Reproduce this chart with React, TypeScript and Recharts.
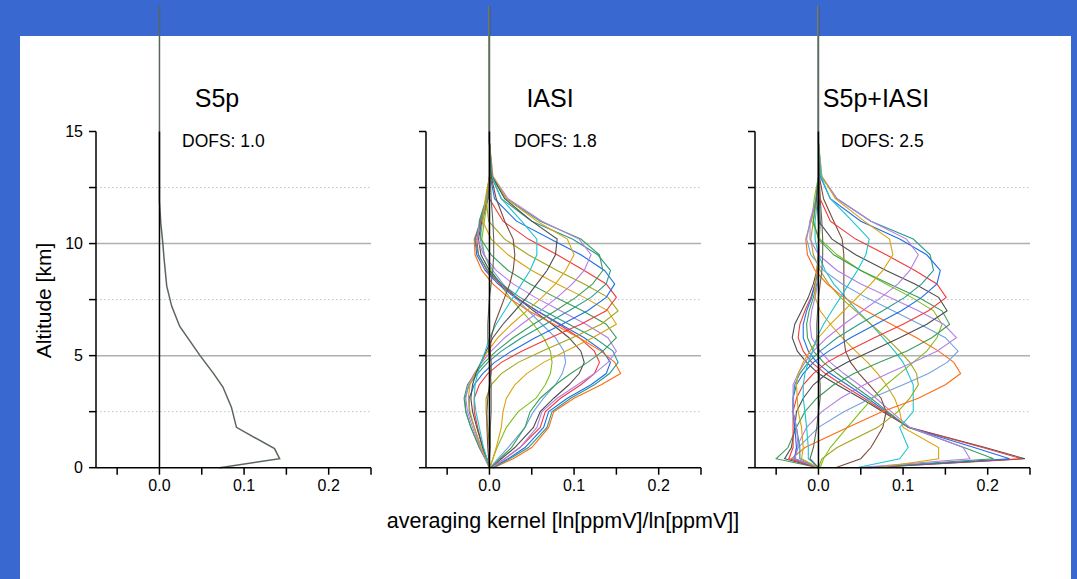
import { LineChart, Line, XAxis, YAxis, ReferenceLine } from 'recharts';

// altitude levels [km] shared by the IASI and S5p+IASI kernels
const altLevels = [0, 0.4, 0.9, 1.8, 2.5, 3.1, 3.7, 4.2, 4.7, 5.2, 5.8, 6.4, 7.0, 7.6, 8.2, 8.8, 9.5, 10.2, 11.0, 12.0, 13.0, 14.5, 20.6];

// S5p column kernel (own levels)
const s5pAlt = [0, 0.4, 0.85, 1.8, 2.7, 3.6, 4.2, 5.0, 6.3, 7.2, 8.1, 9.3, 10.0, 10.9, 11.9, 20.6];
const s5pKernel = [0.071, 0.142, 0.136, 0.091, 0.085, 0.075, 0.064, 0.048, 0.024, 0.0145, 0.0086, 0.0055, 0.004, 0.0016, 0, 0];

// kernel rows, in 1/1000
const iasiKernels = [
  [0, 4, 9, 20, 34, 55, 66, 72, 74, 72, 64, 52, 38, 24, 12, 2, -6, -9, -6, -2, 0, 0, 0],
  [1, 10, 22, 42, 52, 64, 78, 86, 90, 88, 78, 62, 46, 30, 16, 4, -6, -11, -8, -2, 0, 0, 0],
  [2, 14, 30, 52, 60, 76, 94, 106, 112, 108, 94, 74, 52, 32, 14, 0, -10, -13, -9, -2, 1, 0, 0],
  [3, 18, 36, 60, 66, 84, 108, 124, 130, 124, 106, 82, 56, 32, 12, -3, -13, -15, -10, -2, 1, 0, 0],
  [4, 22, 42, 64, 70, 92, 120, 138, 143, 134, 112, 84, 56, 30, 10, -5, -15, -17, -10, -2, 1, 0, 0],
  [5, 28, 50, 70, 76, 100, 132, 155, 148, 132, 106, 76, 46, 22, 4, -9, -17, -18, -10, -2, 1, 0, 0],
  [4, 24, 46, 68, 74, 96, 124, 142, 152, 146, 124, 94, 64, 36, 14, -2, -13, -17, -11, -2, 1, 0, 0],
  [3, 18, 36, 56, 62, 80, 104, 124, 140, 150, 140, 114, 84, 54, 28, 8, -7, -14, -12, -3, 0, 0, 0],
  [2, 12, 26, 42, 48, 60, 78, 96, 116, 134, 150, 138, 110, 78, 48, 22, 2, -10, -12, -4, 0, 0, 0],
  [1, 4, 8, 14, 16, 20, 30, 44, 64, 90, 122, 150, 140, 112, 80, 50, 22, 2, -8, -5, 0, 0, 0],
  [0, 0, 0, -2, -4, -4, 2, 14, 34, 62, 98, 132, 152, 140, 112, 80, 46, 18, -1, -4, 0, 0, 0],
  [0, -3, -8, -14, -18, -18, -12, -2, 14, 38, 72, 108, 138, 150, 138, 112, 80, 46, 16, 0, 0, 0, 0],
  [0, -4, -10, -18, -24, -24, -18, -8, 6, 26, 54, 86, 116, 138, 148, 136, 108, 72, 32, 6, 1, 0, 0],
  [0, -5, -12, -22, -28, -29, -24, -14, -2, 14, 38, 66, 94, 120, 138, 143, 128, 98, 50, 14, 2, 0, 0],
  [0, -5, -12, -22, -28, -30, -26, -17, -6, 8, 28, 52, 78, 102, 122, 134, 130, 108, 60, 20, 3, 0, 0],
  [0, -5, -11, -20, -26, -28, -25, -18, -9, 2, 18, 38, 60, 80, 98, 112, 120, 106, 62, 22, 4, 0, 0],
  [0, -4, -10, -18, -23, -25, -23, -17, -10, -2, 10, 26, 44, 62, 78, 90, 100, 92, 56, 20, 4, 0, 0],
  [0, -3, -8, -15, -20, -22, -20, -16, -10, -4, 4, 16, 30, 44, 56, 68, 78, 80, 50, 18, 3, 0, 0],
  [0, -3, -7, -12, -16, -18, -17, -14, -10, -5, 0, 8, 18, 28, 38, 48, 56, 56, 38, 14, 3, 0, 0],
  [0, -1, -2, -3, -3, -2, 0, 2, 2, 1, 2, 6, 12, 18, 24, 28, 30, 28, 18, 8, 2, 0, 0],
  [0, 0, 1, 1, 2, 2, 2, 1, 0, -1, -2, -2, -1, 0, 2, 4, 5, 5, 4, 2, 1, 0, 0],
];

const combKernels = [
  [60, 244, 197, 107, 76, 50, 22, 0, -14, -25, -31, -28, -20, -12, -6, -2, 0, 1, 2, 1, 0, 0, 0],
  [58, 240, 194, 106, 78, 54, 28, 8, -8, -18, -24, -22, -16, -9, -4, -1, 0, 1, 1, 0, 0, 0, 0],
  [55, 226, 184, 106, 80, 58, 34, 14, -2, -12, -18, -18, -14, -8, -4, -1, 0, 1, 1, 0, 0, 0, 0],
  [50, 207, 172, 106, 82, 62, 40, 22, 6, -6, -13, -14, -11, -6, -2, 0, 1, 1, 1, 0, 0, 0, 0],
  [45, 179, 171, 108, 86, 68, 48, 30, 14, 2, -8, -10, -8, -4, -1, 0, 1, 1, 0, 0, 0, 0, 0],
  [69, 142, 142, 100, 96, 90, 80, 70, 58, 44, 28, 14, 2, -4, -4, -2, 0, 1, 0, 0, 0, 0, 0],
  [45, 96, 106, 96, 112, 112, 112, 106, 100, 90, 76, 62, 46, 32, 18, 8, 0, -4, -4, -1, 0, 0, 0],
  [20, 50, 62, 76, 80, 74, 60, 48, 38, 32, 30, 30, 30, 30, 30, 30, 30, 28, 18, 6, 1, 0, 0],
  [0, 4, 22, 70, 94, 108, 118, 116, 108, 96, 80, 62, 44, 26, 12, 2, -6, -9, -6, -2, 0, 0, 0],
  [2, 6, 14, 34, 50, 64, 80, 96, 112, 128, 140, 146, 136, 110, 80, 50, 22, 2, -8, -5, 0, 0, 0],
  [0, -32, -16, 35, 75, 118, 150, 168, 160, 142, 116, 86, 56, 30, 10, -4, -13, -15, -9, -2, 1, 0, 0],
  [0, -30, -24, 0, 30, 62, 100, 130, 152, 165, 150, 120, 88, 56, 28, 6, -9, -14, -10, -2, 1, 0, 0],
  [0, -28, -26, -14, 4, 26, 54, 82, 112, 140, 163, 148, 118, 84, 50, 22, 0, -10, -10, -3, 0, 0, 0],
  [0, -50, -36, -26, -16, -2, 18, 42, 72, 104, 134, 155, 146, 118, 84, 50, 18, 0, -6, -3, 0, 0, 0],
  [0, -40, -32, -28, -26, -18, -6, 10, 34, 62, 96, 128, 152, 142, 114, 80, 44, 16, 0, -2, 0, 0, 0],
  [0, -35, -30, -30, -30, -26, -18, -6, 10, 34, 66, 100, 130, 151, 140, 114, 80, 44, 14, 2, 0, 0, 0],
  [0, -28, -26, -28, -30, -30, -26, -18, -6, 12, 38, 68, 98, 122, 140, 144, 128, 96, 50, 14, 2, 0, 0],
  [0, -22, -22, -26, -30, -30, -28, -22, -12, 2, 22, 48, 76, 102, 122, 136, 132, 112, 62, 22, 3, 0, 0],
  [0, -28, -24, -26, -30, -30, -30, -24, -16, -6, 10, 30, 52, 74, 94, 108, 118, 104, 62, 22, 4, 0, 0],
  [0, -20, -18, -20, -24, -25, -26, -24, -18, -10, 0, 14, 30, 46, 62, 76, 88, 84, 54, 20, 4, 0, 0],
  [0, -12, -12, -14, -16, -18, -18, -16, -12, -7, -2, 6, 16, 26, 36, 46, 56, 60, 40, 14, 3, 0, 0],
  [0, -10, -6, -2, 0, 2, 2, 1, 0, -1, -2, -2, -1, 0, 2, 4, 5, 5, 4, 2, 1, 0, 0],
];

const gray = '#4d4d4d', red = '#f23b3b', blue = '#1f6fe5', green = '#3b9e5a', purple = '#b47ee6';
const gold = '#d9a20f', cyan = '#1fc3cf', lblue = '#72a2dd', ygreen = '#7fbf1d', orange = '#ff6b12';
const olive = '#a3a31d', brown = '#7d4a3b', teal = '#2d9a8c', dark = '#5e6b5e';

const iasiColors = [ygreen, lblue, gray, red, blue, orange, teal, purple, green, gold, olive, red, blue, teal, green, purple, gold, gray, cyan, brown, dark];
const combColors = [gray, red, blue, green, purple, gold, cyan, brown, olive, ygreen, orange, lblue, purple, green, gray, red, blue, teal, purple, gold, cyan, dark];
const s5pColor = '#5b665a';

const xTicks = [-0.05, 0, 0.05, 0.1, 0.15, 0.2, 0.25];
const yTicks = [0, 2.5, 5, 7.5, 10, 12.5, 15];
const panelTitles = ['S5p', 'IASI', 'S5p+IASI'];
const dofsLabels = ['DOFS: 1.0', 'DOFS: 1.8', 'DOFS: 2.5'];

const buildRows = (kernels: number[][]) =>
  altLevels.map((alt, i) => {
    const row: Record<string, number> = { alt };
    kernels.forEach((k, j) => {
      row['k' + j] = k[i] / 1000;
    });
    return row;
  });

const s5pRows = s5pAlt.map((alt, i) => ({ alt, k0: s5pKernel[i] }));
const iasiRows = buildRows(iasiKernels);
const combRows = buildRows(combKernels);

const FONT = 'Liberation Sans, Arial, sans-serif';
const Y_W = 60;
const PLOT_W = 275;
const X_MIN = -0.075;

const fmtX = (v: number) => (Math.abs(v * 10 - Math.round(v * 10)) < 1e-9 ? v.toFixed(1) : '');

const KernelPanel = ({ left, data, colors, width, showY }: any) => (
  <div style={{ position: 'absolute', left: left - Y_W, top: 0 }}>
    <LineChart
      width={Y_W + PLOT_W + 10}
      height={579}
      data={data}
      layout="vertical"
      margin={{ top: 6, right: 10, bottom: 81.3, left: 0 }}
    >
      <XAxis
        type="number"
        domain={[X_MIN, 0.25]}
        ticks={xTicks}
        tickFormatter={fmtX}
        height={30}
        tickSize={7}
        tickMargin={5}
        interval={0}
        axisLine={{ stroke: '#000', strokeWidth: 1.5 }}
        tickLine={{ stroke: '#000', strokeWidth: 1.5 }}
        tick={{ fill: '#000', fontSize: 16, fontFamily: FONT }}
      />
      <YAxis
        type="number"
        dataKey="alt"
        domain={[0, 20.6]}
        reversed
        ticks={yTicks}
        interval={0}
        width={Y_W}
        tickSize={7}
        tickMargin={6}
        axisLine={false}
        tickFormatter={(v: number) => (showY && v % 5 === 0 ? String(v) : '')}
        tickLine={{ stroke: '#000', strokeWidth: 1.5 }}
        tick={{ fill: '#000', fontSize: 16, fontFamily: FONT }}
      />
      <ReferenceLine y={2.5} stroke="#c4c4c4" strokeDasharray="1.5 2.5" />
      <ReferenceLine y={7.5} stroke="#c4c4c4" strokeDasharray="1.5 2.5" />
      <ReferenceLine y={12.5} stroke="#c4c4c4" strokeDasharray="1.5 2.5" />
      <ReferenceLine y={5} stroke="#b0b0b0" strokeWidth={1.5} />
      <ReferenceLine y={10} stroke="#b0b0b0" strokeWidth={1.5} />
      {colors.map((c: string, i: number) => (
        <Line
          key={i}
          type="linear"
          dataKey={'k' + i}
          stroke={c}
          strokeWidth={width}
          dot={false}
          isAnimationActive={false}
        />
      ))}
      <ReferenceLine segment={[{ x: 0, y: 0 }, { x: 0, y: 15 }]} stroke="#000" strokeWidth={1.5} />
      <ReferenceLine segment={[{ x: X_MIN, y: 0 }, { x: X_MIN, y: 15 }]} stroke="#000" strokeWidth={1.5} />
    </LineChart>
  </div>
);

const panelLefts = [96, 426, 755];
const titleX = [217, 550, 876];

export default function App() {
  return (
    <div style={{ position: 'absolute', left: 0, top: 0, width: 1077, height: 579, background: '#3868d0', overflow: 'hidden' }}>
      <div style={{ position: 'absolute', left: 20, top: 36, width: 1051, height: 543, background: '#fff' }} />
      <KernelPanel left={panelLefts[0]} data={s5pRows} colors={[s5pColor]} width={1.5} showY />
      <KernelPanel left={panelLefts[1]} data={iasiRows} colors={iasiColors} width={1.1} showY={false} />
      <KernelPanel left={panelLefts[2]} data={combRows} colors={combColors} width={1.1} showY={false} />
      <svg width={1077} height={579} style={{ position: 'absolute', left: 0, top: 0, pointerEvents: 'none' }} fontFamily={FONT}>
        {panelTitles.map((t, i) => (
          <text key={t} x={titleX[i]} y={107} fontSize={25} textAnchor="middle" fill="#000">{t}</text>
        ))}
        {dofsLabels.map((t, i) => (
          <text key={t} x={panelLefts[i] + [86, 88, 86][i]} y={147} fontSize={17.5} fill="#000">{t}</text>
        ))}
        <text x={51} y={300.5} fontSize={21} textAnchor="middle" fill="#000" transform="rotate(-90 51 300.5)">Altitude [km]</text>
        <text x={563} y={528} fontSize={21.5} textAnchor="middle" fill="#000">averaging kernel [ln[ppmV]/ln[ppmV]]</text>
      </svg>
    </div>
  );
}
